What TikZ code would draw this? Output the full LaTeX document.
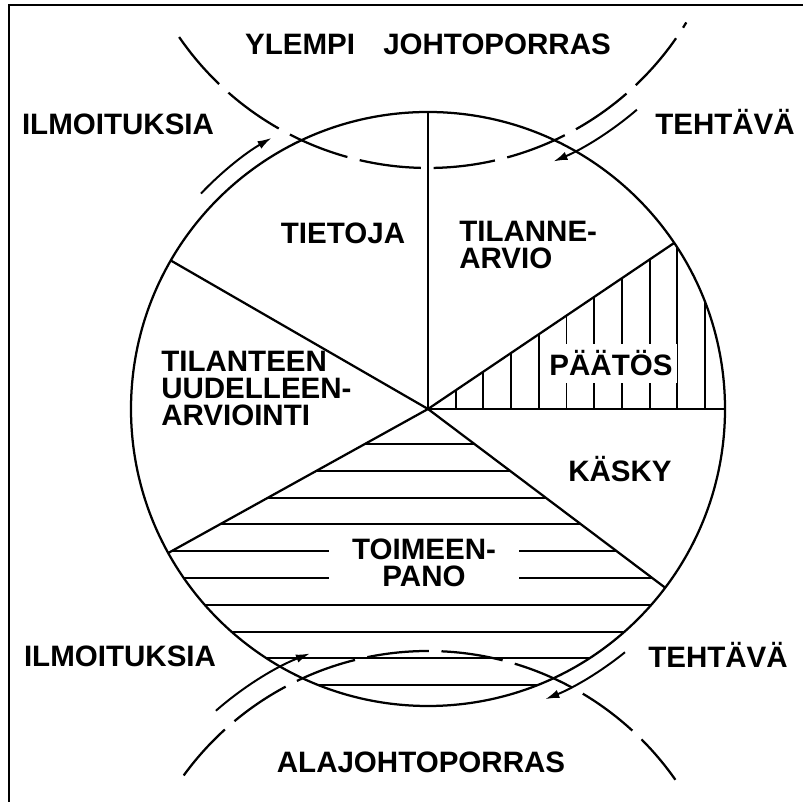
\documentclass[tikz,border=0pt]{standalone}
\usepackage{fontspec}
\setmainfont{Liberation Sans}
\usetikzlibrary{arrows.meta}

\begin{document}
\begin{tikzpicture}[x=0.025cm, y=0.025cm,
    lbl/.style={font=\fontsize{21}{19}\selectfont\bfseries, inner sep=0pt},
    edge/.style={line width=1.6pt},
    hatch/.style={line width=1.3pt},
    level/.style={line width=1.6pt, dash pattern=on 44pt off 9pt},
    arrow/.style={line width=1.4pt, -{Latex[length=10pt,width=6pt]}}
]
\useasboundingbox (0,0) rectangle (803,802);
\draw[edge] (9,0) -- (9,797) -- (803,797);

\coordinate (c) at (428,393);
\coordinate (up) at (428,936);
\coordinate (lo) at (428,-151);

\begin{scope}
\clip (c) -- ++(0:297) arc[start angle=0, end angle=34, radius=297] -- cycle;
\foreach \k in {1,...,10}
  \draw[hatch] (428+27.7*\k,393) -- ++(0,300);
\end{scope}
\begin{scope}
\clip (c) -- ++(209:297) arc[start angle=209, end angle=323, radius=297] -- cycle;
\foreach \k in {0,...,9}
  \draw[hatch] (100,358-26.8*\k) -- (760,358-26.8*\k);
\end{scope}

\draw[edge] (c) circle[radius=297];
\foreach \a in {0,34,90,150,209,323}
  \draw[edge] (c) -- ++(\a:297);

\draw[level] (up) ++(-145.5:302) arc[start angle=-145.5, end angle=-31.2, radius=302];
\draw[level] (lo) ++(144:302) arc[start angle=144, end angle=35, radius=302];

\draw[arrow] (c) ++(136.5:313) arc[start angle=136.5, end angle=120, radius=313];
\draw[arrow] (up) ++(-49.4:321) arc[start angle=-49.4, end angle=-67, radius=321];
\draw[arrow] (lo) ++(131.2:322) arc[start angle=131.2, end angle=111.5, radius=322];
\draw[arrow] (c) ++(-51:313) arc[start angle=-51, end angle=-68, radius=313];

\node[lbl, anchor=base] (upper) at (428,747) {YLEMPI\hspace{20pt}JOHTOPORRAS};
\node[lbl, anchor=base] (lower) at (421,29) {ALAJOHTOPORRAS};
\node[lbl, anchor=base] (rep1) at (118,667) {ILMOITUKSIA};
\node[lbl, anchor=base] (task1) at (725,667) {TEHTÄVÄ};
\node[lbl, anchor=base] (rep2) at (120,135) {ILMOITUKSIA};
\node[lbl, anchor=base] (task2) at (718,134) {TEHTÄVÄ};
\node[lbl, anchor=base] (info) at (343,558) {TIETOJA};
\node[lbl, anchor=west, align=left] (estim) at (459,557) {TILANNE-\\ARVIO};
\node[lbl, anchor=base, fill=white, inner xsep=0.1cm, inner ysep=0.18cm] (decis) at (611,426) {PÄÄTÖS};
\node[lbl, anchor=base] (order) at (620,320) {KÄSKY};
\node[lbl, align=center, fill=white, inner xsep=0.575cm] (exec) at (424,239) {TOIMEEN-\\PANO};
\node[lbl, anchor=west, align=left] (reest) at (161,413.5) {TILANTEEN\\UUDELLEEN-\\ARVIOINTI};

\end{tikzpicture}
\end{document}
